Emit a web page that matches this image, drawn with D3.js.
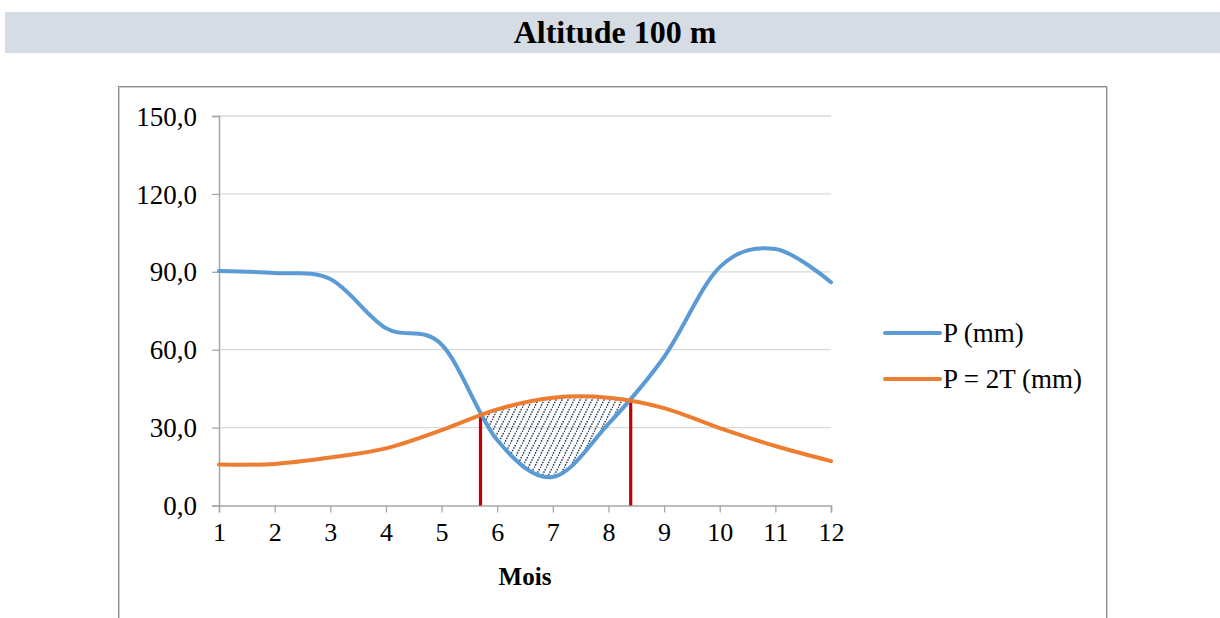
<!DOCTYPE html>
<html>
<head>
<meta charset="utf-8">
<script src="https://cdn.jsdelivr.net/npm/d3@7"></script>
<style>
  html, body { margin: 0; padding: 0; background: #fff; }
  svg { display: block; }
</style>
</head>
<body>
<svg id="chart" width="1220" height="618"></svg>
<script>
// ---- Data ----
const title = "Altitude 100 m";
const months = [1, 2, 3, 4, 5, 6, 7, 8, 9, 10, 11, 12];
const precip = [90.3, 89.5, 87.2, 68.3, 62.0, 25.2, 11.0, 31.4, 57.2, 91.8, 98.8, 86.0];
const twoT = [15.8, 16.0, 18.5, 22.0, 29.0, 37.0, 41.5, 41.5, 37.5, 29.8, 22.9, 17.1];
const yTicks = [0, 30, 60, 90, 120, 150];
const crossings = [5.7, 8.4];
const seriesNames = ["P (mm)", "P = 2T (mm)"];
const xLabel = "Mois";

// ---- Layout ----
const svg = d3.select("#chart");
const colors = { p: "#5B9BD5", t: "#ED7D31", red: "#C00000", grid: "#D9D9D9", axis: "#A6A6A6" };
const serif = "'Liberation Serif', 'Times New Roman', serif";

const x = d3.scaleLinear().domain([1, 12]).range([219, 831]);
const y = d3.scaleLinear().domain([0, 150]).range([505.5, 116]);

// Title band
svg.append("rect").attr("x", 5).attr("y", 12).attr("width", 1215).attr("height", 41).attr("fill", "#D6DCE4");
svg.append("text").attr("x", 615).attr("y", 43).attr("text-anchor", "middle")
  .attr("font-family", serif).attr("font-weight", "bold").attr("font-size", 32).attr("fill", "#000").text(title);

// Chart frame
svg.append("rect").attr("x", 119.5).attr("y", 87.5).attr("width", 988).attr("height", 560)
  .attr("fill", "none").attr("stroke", "#D0D0D0").attr("stroke-width", 1);
svg.append("rect").attr("x", 118.5).attr("y", 86.5).attr("width", 988).attr("height", 560)
  .attr("fill", "none").attr("stroke", "#8A8A8A").attr("stroke-width", 1);

// Pattern for hatch
const defs = svg.append("defs");
const pat = defs.append("pattern").attr("id", "hatch").attr("patternUnits", "userSpaceOnUse")
  .attr("width", 6).attr("height", 12);
pat.append("line").attr("x1", 0).attr("y1", 12).attr("x2", 6).attr("y2", 0)
  .attr("stroke", "#33435F").attr("stroke-width", 1.5).attr("stroke-dasharray", "1.6 1.1");

// Gridlines
svg.append("g").selectAll("line").data(yTicks.filter(d => d > 0)).join("line")
  .attr("x1", x(1)).attr("x2", x(12)).attr("y1", d => y(d)).attr("y2", d => y(d))
  .attr("stroke", colors.grid).attr("stroke-width", 1.3);

// Y axis
const yAxis = d3.axisLeft(y).tickValues(yTicks).tickSize(7).tickPadding(15)
  .tickFormat(d => d3.format(".1f")(d).replace(".", ","));
const gy = svg.append("g").attr("transform", `translate(${x(1)},0)`).call(yAxis);
gy.select(".domain").attr("stroke", colors.axis).attr("stroke-width", 1.5);
gy.selectAll(".tick line").attr("stroke", colors.axis).attr("stroke-width", 1.3);
gy.selectAll(".tick text").attr("font-family", serif).attr("font-size", 27).attr("fill", "#000").attr("dy", "0.34em");

// X axis
const xAxis = d3.axisBottom(x).tickValues(months).tickSize(7).tickPadding(13).tickFormat(d3.format("d"));
const gx = svg.append("g").attr("transform", `translate(0,${y(0)})`).call(xAxis);
gx.select(".domain").attr("stroke", colors.axis).attr("stroke-width", 1.5);
gx.selectAll(".tick line").attr("stroke", colors.axis).attr("stroke-width", 1.3);
gx.selectAll(".tick text").attr("font-family", serif).attr("font-size", 26).attr("fill", "#000").attr("dy", "0.6em");

svg.append("text").attr("x", (x(1) + x(12)) / 2).attr("y", 585).attr("text-anchor", "middle")
  .attr("font-family", serif).attr("font-weight", "bold").attr("font-size", 25).text(xLabel);

// Curves
const curve = d3.curveCardinal.tension(0);
const pData = months.map((m, i) => ({ m, v: precip[i] }));
const tData = months.map((m, i) => ({ m, v: twoT[i] }));
const line = d3.line().x(d => x(d.m)).y(d => y(d.v)).curve(curve);

// Hatched region: area under orange, clipped to area above blue, between crossings
defs.append("clipPath").attr("id", "aboveBlue").append("path")
  .attr("d", d3.area().x(d => x(d.m)).y0(y(150)).y1(d => y(d.v)).curve(curve)(pData));
defs.append("clipPath").attr("id", "betweenX").append("rect")
  .attr("x", x(crossings[0])).attr("y", y(150)).attr("width", x(crossings[1]) - x(crossings[0])).attr("height", y(0) - y(150));
svg.append("g").attr("clip-path", "url(#betweenX)")
  .append("path").attr("clip-path", "url(#aboveBlue)")
  .attr("d", d3.area().x(d => x(d.m)).y0(y(0)).y1(d => y(d.v)).curve(curve)(tData))
  .attr("fill", "url(#hatch)");

const tPath = svg.append("path").attr("d", line(tData)).attr("fill", "none")
  .attr("stroke", colors.t).attr("stroke-width", 4).attr("stroke-linecap", "round");

// Red vertical lines at crossings (heights)
function yOnPath(pathNode, px) {
  const L = pathNode.getTotalLength();
  let lo = 0, hi = L;
  for (let k = 0; k < 40; k++) {
    const mid = (lo + hi) / 2;
    if (pathNode.getPointAtLength(mid).x < px) lo = mid; else hi = mid;
  }
  return pathNode.getPointAtLength((lo + hi) / 2).y;
}
svg.append("g").selectAll("line").data(crossings).join("line")
  .attr("x1", d => x(d)).attr("x2", d => x(d))
  .attr("y1", y(0)).attr("y2", d => yOnPath(tPath.node(), x(d)))
  .attr("stroke", colors.red).attr("stroke-width", 3.2);

svg.append("path").attr("d", line(pData)).attr("fill", "none")
  .attr("stroke", colors.p).attr("stroke-width", 4).attr("stroke-linecap", "round");
tPath.raise();

// Legend
const legend = svg.append("g");
const items = [{ name: seriesNames[0], c: colors.p, yy: 333 }, { name: seriesNames[1], c: colors.t, yy: 379 }];
items.forEach(it => {
  legend.append("line").attr("x1", 885).attr("x2", 940).attr("y1", it.yy).attr("y2", it.yy)
    .attr("stroke", it.c).attr("stroke-width", 4).attr("stroke-linecap", "round");
  legend.append("text").attr("x", 943).attr("y", it.yy + 9).attr("font-family", serif)
    .attr("font-size", 27).attr("fill", "#000").text(it.name);
});
</script>
</body>
</html>
